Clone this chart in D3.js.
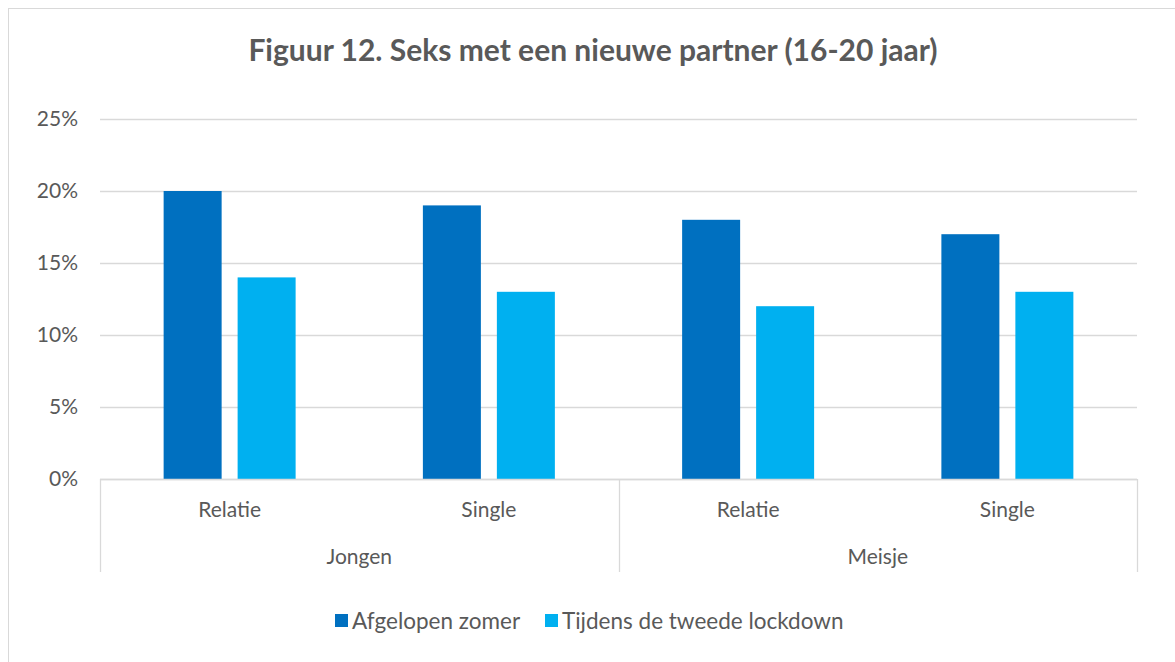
<!DOCTYPE html>
<html>
<head>
<meta charset="utf-8">
<script src="https://cdn.jsdelivr.net/npm/d3@7"></script>
<style>
  body { margin: 0; background: #fff; }
  text { font-family: Lato, "Open Sans", sans-serif; fill: #595959; }
</style>
</head>
<body>
<svg></svg>
<script>
// data
const groups = ["Jongen", "Meisje"];
const categories = ["Relatie", "Single", "Relatie", "Single"];
const categoryGroup = ["Jongen", "Jongen", "Meisje", "Meisje"];
const seriesNames = ["Afgelopen zomer", "Tijdens de tweede lockdown"];
const zomer = [20, 19, 18, 17];
const lockdown = [14, 13, 12, 13];
const yTicks = [0, 5, 10, 15, 20, 25];
const colors = ["#0070C0", "#00B0F0"];

const W = 1175, H = 662;
const svg = d3.select("svg").attr("width", W).attr("height", H);

// chart border
svg.append("rect")
  .attr("x", 8.5).attr("y", 8.5)
  .attr("width", W + 10).attr("height", H + 10)
  .attr("fill", "none").attr("stroke", "#D9D9D9");

const plotLeft = 100, plotRight = 1137, plotTop = 119, plotBottom = 479;

const x = d3.scaleBand()
  .domain(d3.range(categories.length))
  .range([plotLeft, plotRight]);

const inner = d3.scaleBand()
  .domain([0, 1])
  .range([0, x.bandwidth()])
  .paddingInner(0.216)
  .paddingOuter(0.86);

const y = d3.scaleLinear().domain([0, 25]).range([plotBottom, plotTop]);

// gridlines
svg.append("g")
  .selectAll("line")
  .data(yTicks)
  .enter().append("line")
  .attr("x1", plotLeft).attr("x2", plotRight)
  .attr("y1", d => Math.round(y(d)) + 0.5)
  .attr("y2", d => Math.round(y(d)) + 0.5)
  .attr("stroke", "#D9D9D9").attr("stroke-width", 1.3);

// y labels
svg.append("g")
  .selectAll("text")
  .data(yTicks)
  .enter().append("text")
  .attr("x", 78).attr("y", d => y(d))
  .attr("dy", "0.35em")
  .attr("text-anchor", "end")
  .style("font-size", "21px")
  .text(d => d + "%");

// bars
const series = [zomer, lockdown];
series.forEach((vals, s) => {
  svg.append("g")
    .selectAll("rect")
    .data(vals)
    .enter().append("rect")
    .attr("x", (d, i) => x(i) + inner(s))
    .attr("y", d => y(d))
    .attr("width", inner.bandwidth())
    .attr("height", d => y(0) - y(d))
    .attr("fill", colors[s]);
});

// multi-level axis
const axisBottom = 572;
const sepX = [plotLeft, x(2), plotRight];
svg.append("g")
  .selectAll("line")
  .data(sepX)
  .enter().append("line")
  .attr("x1", d => Math.round(d) + 0.5).attr("x2", d => Math.round(d) + 0.5)
  .attr("y1", plotBottom).attr("y2", axisBottom)
  .attr("stroke", "#D9D9D9").attr("stroke-width", 1.3);

svg.append("g")
  .selectAll("text")
  .data(categories)
  .enter().append("text")
  .attr("x", (d, i) => x(i) + x.bandwidth() / 2)
  .attr("y", 510).attr("dy", "0.35em")
  .attr("text-anchor", "middle")
  .style("font-size", "21px")
  .text(d => d);

svg.append("g")
  .selectAll("text")
  .data(groups)
  .enter().append("text")
  .attr("x", g => {
    const idx = d3.range(categories.length).filter(i => categoryGroup[i] === g);
    return (x(idx[0]) + x(idx[idx.length - 1]) + x.bandwidth()) / 2;
  })
  .attr("y", 557).attr("dy", "0.35em")
  .attr("text-anchor", "middle")
  .style("font-size", "21px")
  .text(d => d);

// x axis line at zero
svg.append("line")
  .attr("x1", plotLeft).attr("x2", plotRight)
  .attr("y1", Math.round(y(0)) + 0.5).attr("y2", Math.round(y(0)) + 0.5)
  .attr("stroke", "#D9D9D9").attr("stroke-width", 1.3);

// title
svg.append("text")
  .attr("x", 593).attr("y", 50).attr("dy", "0.35em")
  .attr("text-anchor", "middle")
  .style("font-size", "30px").style("font-weight", "bold")
  .text("Figuur 12. Seks met een nieuwe partner (16-20 jaar)");

// legend
const legendX = [335, 545];
const legend = svg.append("g");
seriesNames.forEach((name, s) => {
  legend.append("rect")
    .attr("x", legendX[s]).attr("y", 614)
    .attr("width", 13).attr("height", 13)
    .attr("fill", colors[s]);
  legend.append("text")
    .attr("x", legendX[s] + 17).attr("y", 621).attr("dy", "0.35em")
    .style("font-size", "22.5px")
    .text(name);
});
</script>
</body>
</html>
